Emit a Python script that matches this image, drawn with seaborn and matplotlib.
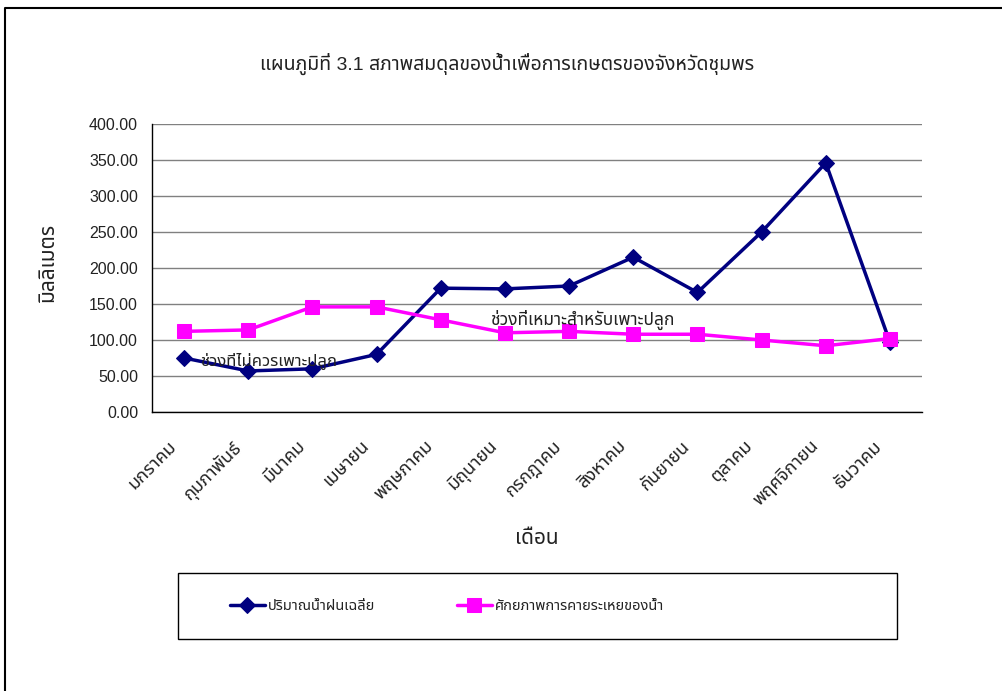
import numpy as np
import pandas as pd
import matplotlib
matplotlib.use('Agg')
import matplotlib.pyplot as plt
import matplotlib.transforms as mtransforms
import seaborn as sns
from matplotlib import font_manager, ft2font
from matplotlib.patches import Rectangle
from matplotlib.lines import Line2D
from matplotlib.ticker import FormatStrFormatter

# Data
months = ['มกราคม', 'กุมภาพันธ์', 'มีนาคม', 'เมษายน', 'พฤษภาคม', 'มิถุนายน',
          'กรกฎาคม', 'สิงหาคม', 'กันยายน', 'ตุลาคม', 'พฤศจิกายน', 'ธันวาคม']
rain = [75, 57, 60, 80, 172, 171, 175, 215, 166, 250, 346, 97]
pet = [112, 114, 146, 146, 128, 110, 112, 108, 108, 100, 92, 102]
rain_name = 'ปริมาณน้ำฝนเฉลี่ย'
pet_name = 'ศักยภาพการคายระเหยของน้ำ'
title = 'แผนภูมิที่ 3.1 สภาพสมดุลของน้ำเพื่อการเกษตรของจังหวัดชุมพร'
note_bad = 'ช่วงที่ไม่ควรเพาะปลูก'
note_good = 'ช่วงที่เหมาะสำหรับเพาะปลูก'


# find a font that has Thai glyphs
def thai_family():
    found = []
    for f in font_manager.fontManager.ttflist:
        try:
            cm = ft2font.FT2Font(f.fname).get_charmap()
        except Exception:
            continue
        if 0x0E01 in cm and 0x0E33 in cm:
            found.append(f.name)
    for pref in ['Noto Sans Thai', 'Loma', 'Garuda', 'Norasi', 'Sawasdee', 'Umpush']:
        if pref in found:
            return pref
    return found[0] if found else 'DejaVu Sans'


sns.set_style('white')
plt.rcParams['font.family'] = ['Liberation Sans', thai_family(), 'DejaVu Sans']
txt = '#222222'

df = pd.DataFrame({'x': np.arange(len(months)), 'rain': rain, 'pet': pet})

fig = plt.figure(figsize=(10.03, 6.91), dpi=100)
ax = fig.add_axes([152 / 1003, 1 - 412 / 691, 770 / 1003, 288 / 691])

sns.lineplot(data=df, x='x', y='rain', ax=ax, color='#000080', lw=2.5,
             marker='D', markersize=8, markeredgecolor='#000080', label=rain_name)
sns.lineplot(data=df, x='x', y='pet', ax=ax, color='#FF00FF', lw=2.5,
             marker='s', markersize=10, markeredgecolor='#FF00FF', label=pet_name)

ax.set_xlim(-0.5, len(months) - 0.5)
ax.set_ylim(0, 400)
ax.set_yticks(np.arange(0, 401, 50))
ax.yaxis.set_major_formatter(FormatStrFormatter('%.2f'))
ax.set_xticks(np.arange(len(months)))
ax.set_xticks(np.arange(-0.5, len(months)), minor=True)
ax.tick_params(axis='x', which='major', length=0, pad=14)
ax.tick_params(axis='x', which='minor', length=5, width=1, color='black', direction='out')
ax.tick_params(axis='y', length=6, width=1, color='black', direction='out',
               labelsize=11.5, labelcolor=txt, pad=4)
ax.set_xticklabels(months, rotation=45, ha='right', va='top',
                   rotation_mode='anchor', fontsize=13, color=txt)
# nudge the rotated month labels left/down like the original
shift = mtransforms.ScaledTranslation(-16 / 100, -6 / 100, fig.dpi_scale_trans)
for lab in ax.get_xticklabels():
    lab.set_transform(lab.get_transform() + shift)

ax.yaxis.grid(True, color='#808080', lw=1)
ax.set_axisbelow(True)
for s in ['top', 'right']:
    ax.spines[s].set_visible(False)
for s in ['left', 'bottom']:
    ax.spines[s].set_color('black')
    ax.spines[s].set_linewidth(1)

ax.set_xlabel('เดือน', fontsize=15, color=txt)
ax.xaxis.set_label_coords(0.5, (412 - 529) / 288)
ax.set_ylabel('มิลลิเมตร', fontsize=15, color=txt)
ax.yaxis.set_label_coords((57 - 152) / 770, 0.52)

ax.text(0.25, 72, note_bad, fontsize=12, color=txt, va='center', ha='left')
ax.text(4.77, 128, note_good, fontsize=12.5, color=txt, va='center', ha='left')

fig.text(507 / 1003, 1 - 64 / 691, title, fontsize=14, color=txt, ha='center', va='center')

# legend box + legend
ax.get_legend().remove()
fig.patches.append(Rectangle((178 / 1003, 1 - 639 / 691), 719 / 1003, 66 / 691,
                             transform=fig.transFigure, fill=False, ec='black', lw=1))
h, l = ax.get_legend_handles_labels()
fig.legend(h, l, loc='center left', bbox_to_anchor=(230 / 1003, 1 - 606 / 691),
           ncol=2, frameon=False, fontsize=10.5, handlelength=2.4, handletextpad=0.2,
           columnspacing=5.6, labelcolor=txt, borderaxespad=0, borderpad=0)

# outer frame (top and left edges only visible)
fig.lines.append(Line2D([5 / 1003, 5 / 1003, 1.0], [0.0, 1 - 8 / 691, 1 - 8 / 691],
                        transform=fig.transFigure, color='black', lw=1.5))

fig.savefig('out.png', dpi=100)
